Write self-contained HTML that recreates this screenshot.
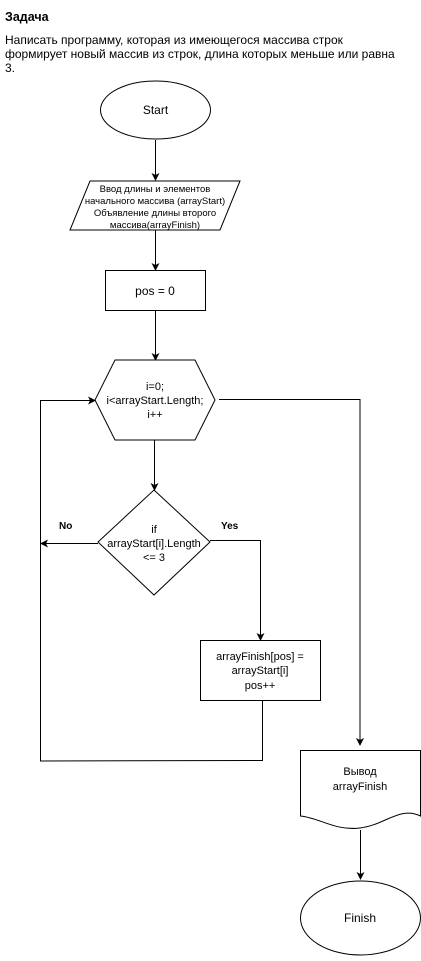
<!DOCTYPE html>
<html><head><meta charset="utf-8"><style>
body{margin:0;background:#fff;width:421px;height:961px;overflow:hidden}
svg{display:block}
text{font-family:"Liberation Sans",sans-serif;fill:#000}
</style></head><body>
<svg width="421" height="961" viewBox="0 0 421 961" xmlns="http://www.w3.org/2000/svg">
<defs><marker id="a" markerWidth="8" markerHeight="8" refX="7" refY="4" orient="auto" markerUnits="userSpaceOnUse"><path d="M0,0 L8,4 L0,8 L2,4 z" fill="#000"/></marker></defs>
<text x="5" y="21" font-size="12.5" font-weight="bold">Задача</text>
<text x="5" y="44" font-size="12">Написать программу, которая из имеющегося массива строк</text>
<text x="5" y="58" font-size="12">формирует новый массив из строк, длина которых меньше или равна</text>
<text x="5" y="72" font-size="12">3.</text>
<g stroke="#000" fill="none" stroke-width="1">
<ellipse cx="155.5" cy="110" rx="55" ry="29" fill="#fff"/>
<line x1="155.5" y1="140" x2="155.5" y2="180" marker-end="url(#a)"/>
<polygon points="90,181 240,181 220,230 70,230" fill="#fff"/>
<line x1="155.5" y1="230" x2="155.5" y2="270" marker-end="url(#a)"/>
<rect x="105.5" y="270.5" width="100" height="40" fill="#fff"/>
<line x1="155.5" y1="311" x2="155.5" y2="360" marker-end="url(#a)"/>
<polygon points="115,360 195,360 215,400 195,440 115,440 95,400" fill="#fff"/>
<polyline points="219,399.5 360,399.5 360,745" marker-end="url(#a)"/>
<line x1="154.5" y1="440" x2="154.5" y2="490" marker-end="url(#a)"/>
<polygon points="154,490 210,542 154,595 98,542" fill="#fff"/>
<line x1="98" y1="543.5" x2="41" y2="543.5" marker-end="url(#a)"/>
<polyline points="210,540.5 260.5,540.5 260.5,640" marker-end="url(#a)"/>
<rect x="200.5" y="640.5" width="120" height="60" fill="#fff"/>
<polyline points="262.5,701 262.5,760.5 40.5,761 40.5,400.5 95,400.5" marker-end="url(#a)"/>
<path d="M300.5,750.5 H420.5 V816 C400,806 385,825 360,828 C335,831 320,818 300.5,816 Z" fill="#fff"/>
<line x1="360.5" y1="830" x2="360.5" y2="879" marker-end="url(#a)"/>
<ellipse cx="360.5" cy="918" rx="60" ry="37" fill="#fff"/>
</g>
<g font-size="12" text-anchor="middle">
<text x="155.5" y="114">Start</text>
<text x="155" y="295" font-size="12">pos = 0</text>
<text x="360" y="922">Finish</text>
</g>
<g font-size="9.5" text-anchor="middle">
<text x="155" y="192">Ввод длины и элементов</text>
<text x="155" y="204">начального массива (arrayStart)</text>
<text x="155" y="216">Объявление длины второго</text>
<text x="155" y="228">массива(arrayFinish)</text>
</g>
<g font-size="11" text-anchor="middle">
<text x="155" y="390">i=0;</text>
<text x="155" y="404">i&lt;arrayStart.Length;</text>
<text x="155" y="418">i++</text>
<text x="154" y="533">if</text>
<text x="154" y="547">arrayStart[i].Length</text>
<text x="154" y="561">&lt;= 3</text>
<text x="260" y="660">arrayFinish[pos] =</text>
<text x="260" y="674">arrayStart[i]</text>
<text x="260" y="689">pos++</text>
<text x="360" y="775">Вывод</text>
<text x="360" y="790">arrayFinish</text>
</g>
<g font-size="10" font-weight="bold">
<text x="59" y="529">No</text>
<text x="221" y="529">Yes</text>
</g>
</svg>
</body></html>
